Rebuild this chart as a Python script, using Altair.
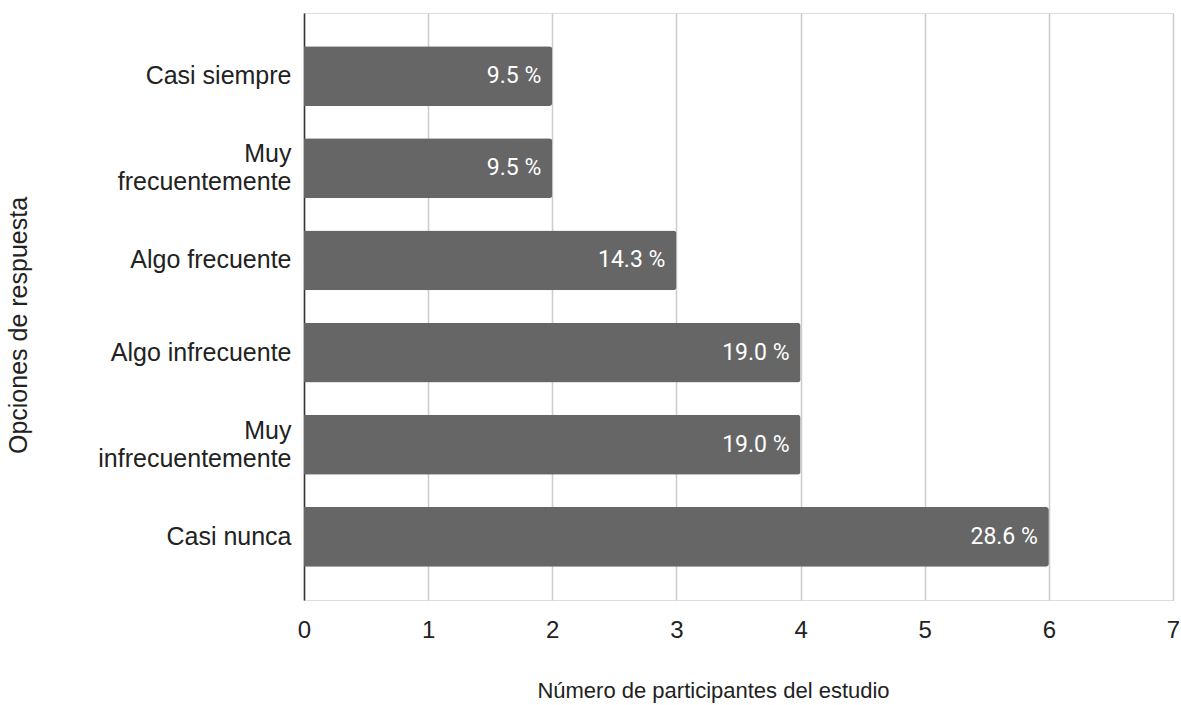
import altair as alt
import pandas as pd

# Response options (top to bottom) and number of study participants for each
opciones = [
    "Casi siempre",
    "Muy\nfrecuentemente",
    "Algo frecuente",
    "Algo infrecuente",
    "Muy\ninfrecuentemente",
    "Casi nunca",
]
participantes = [2, 2, 3, 4, 4, 6]

df = pd.DataFrame({"opcion": opciones, "n": participantes})

AXIS_FONT = "Liberation Sans"
BAR_FONT = "Roboto"
TEXT = "#222222"

base = alt.Chart(df).transform_joinaggregate(
    total="sum(n)"
).transform_calculate(
    etiqueta="format(datum.n / datum.total * 100, '.1f') + ' %'"
)

y_enc = alt.Y(
    "opcion:N",
    sort=opciones,
    scale=alt.Scale(paddingInner=0.35, paddingOuter=0.36),
    axis=alt.Axis(
        title="Opciones de respuesta",
        titleFont=AXIS_FONT,
        titleFontSize=25,
        titleFontWeight="normal",
        titleColor=TEXT,
        titleX=-273,
        titleY=312,
        labelExpr="split(datum.label, '\\n')",
        labelFont=AXIS_FONT,
        labelFontSize=25,
        labelColor=TEXT,
        labelLineHeight=28,
        labelPadding=13,
        labelLimit=0,
        labelOffset={
            "condition": {"test": "indexof(datum.value, '\\n') >= 0", "value": -14},
            "value": 0,
        },
        ticks=False,
        domainColor="#333333",
        domainWidth=1.5,
        grid=False,
    ),
)

x_enc = alt.X(
    "n:Q",
    scale=alt.Scale(domain=[0, 7], nice=False),
    axis=alt.Axis(
        title="Número de participantes del estudio",
        titleFont=AXIS_FONT,
        titleFontSize=22,
        titleFontWeight="normal",
        titleColor=TEXT,
        titleX=409,
        titleY=80,
        values=[0, 1, 2, 3, 4, 5, 6, 7],
        format="d",
        labelFont=AXIS_FONT,
        labelFontSize=24,
        labelColor=TEXT,
        labelPadding=18,
        labelFlush=False,
        ticks=False,
        domain=False,
        grid=True,
        gridColor="#cccccc",
        gridWidth=1.5,
    ),
)

bars = base.mark_bar(color="#666666", cornerRadiusEnd=3).encode(y=y_enc, x=x_enc)

labels = base.mark_text(
    align="right",
    baseline="middle",
    dx=-11,
    color="#ffffff",
    font=BAR_FONT,
    fontSize=23,
).encode(y=alt.Y("opcion:N", sort=opciones), x="n:Q", text="etiqueta:N")

chart = (
    alt.layer(bars, labels)
    .properties(
        width=869,
        height=587,
        autosize=alt.AutoSizeParams(type="none"),
        padding={"left": 304, "top": 13, "right": 8, "bottom": 105},
    )
    .configure_view(stroke=None)
    .configure(background="white")
)

chart.save("out.html", embed_options={"renderer": "svg", "actions": False})
